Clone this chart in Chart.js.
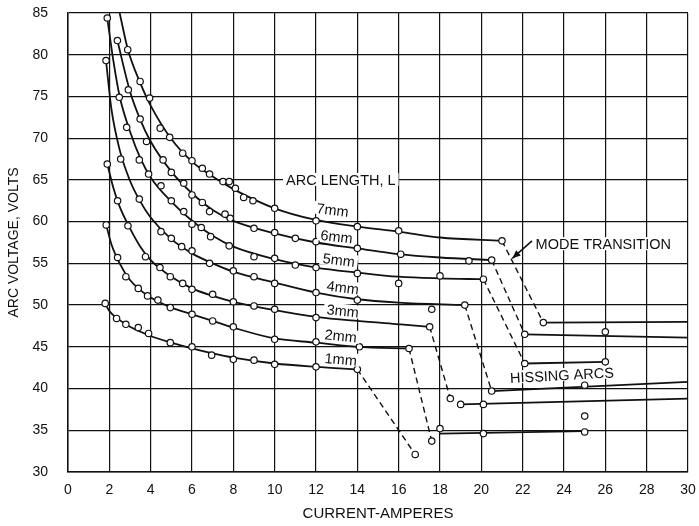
<!DOCTYPE html>
<html>
<head>
<meta charset="utf-8">
<script src="https://cdn.jsdelivr.net/npm/chart.js@4.4.1/dist/chart.umd.min.js"></script>
<style>
  html, body { margin: 0; padding: 0; background: #fff; }
  #wrap { width: 699px; height: 526px; }
</style>
</head>
<body>
<div id="wrap"><canvas id="arc-chart" width="699" height="526"></canvas></div>
<script>
// ─── Arc voltage vs current, one family per arc length ─────────────
// pairs are [current (A), voltage (V)]

const CURRENT_TICKS = [0, 2, 4, 6, 8, 10, 12, 14, 16, 18, 20, 22, 24, 26, 28, 30];
const VOLT_TICKS    = [30, 35, 40, 45, 50, 55, 60, 65, 70, 75, 80, 85];

// faired curves
const L7_CURVE = [[2.5,85],[2.9,80.6],[3.5,76.6],[4,73.9],[5,69.9],[6,67.2],[7,65.4],[8,63.9],[10,61.6],[12,60.2],[14,59.4],[16,58.8],[18,58.1],[21,57.7]];
const L6_CURVE = [[2.39,81.7],[3,75.6],[3.5,72.2],[4,69.6],[5,66.0],[6,63.4],[7,61.4],[8,60.1],[10,58.6],[12,57.5],[14,56.8],[16,56.1],[18,55.7],[20.5,55.4]];
const L5_CURVE = [[1.9,84.4],[2.2,79.2],[2.5,75.0],[3,70.8],[3.5,67.6],[4,65.3],[5,62.4],[6,60.1],[7,58.3],[8,57.0],[10,55.5],[12,54.5],[14,53.9],[16,53.4],[18,53.2],[20.1,53.1]];
const L4_CURVE = [[1.84,79.3],[2.1,73.5],[2.5,68.6],[3,64.9],[3.5,62.4],[4,60.5],[5,57.9],[6,56.2],[7,55.0],[8,54.0],[10,52.7],[12,51.5],[14,50.7],[16,50.3],[19.2,50.0]];
const L3_CURVE = [[1.9,66.9],[2.2,64.0],[2.5,61.8],[3,59.2],[3.5,57.0],[4,55.4],[5,53.4],[6,52.0],[7,51.1],[8,50.4],[10,49.4],[12,48.6],[14,48.1],[16,47.7],[17.5,47.4]];
const L2_CURVE = [[1.85,59.6],[2.1,57.3],[2.5,55.0],[3,53.0],[3.5,51.8],[4,50.9],[5,49.7],[6,48.9],[7,48.1],[8,47.3],[10,46.0],[12,45.5],[14,45.0],[16.5,44.8]];
const L1_CURVE = [[1.8,50.2],[2,49.3],[2.5,48.2],[3,47.4],[4,46.3],[5,45.5],[6,44.8],[7,44.2],[8,43.7],[10,43.0],[12,42.6],[14,42.3]];

// measured points
const L7_POINTS = [[2.89,80.6],[3.49,76.8],[3.95,74.8],[4.46,71.2],[4.92,70.1],[5.55,68.2],[6.0,67.3],[6.5,66.4],[6.85,65.7],[7.5,64.8],[7.8,64.8],[8.1,64.0],[8.5,62.9],[8.95,62.5],[10,61.6],[12,60.1],[14,59.4],[16,58.9],[21,57.7]];
const L6_POINTS = [[2.39,81.7],[2.92,75.8],[3.49,72.3],[3.8,69.6],[4.6,67.4],[5.0,65.9],[5.6,64.6],[6.0,63.2],[6.5,62.3],[6.85,61.2],[7.6,60.9],[7.85,60.4],[9.0,59.2],[10,58.7],[11,58.0],[12,57.6],[14,56.8],[16.1,56.1],[19.4,55.3],[20.5,55.4]];
const L5_POINTS = [[1.9,84.4],[2.48,74.9],[2.84,71.3],[3.45,67.4],[3.9,65.7],[4.5,64.3],[5.0,62.5],[5.6,61.2],[6.0,59.7],[6.45,59.3],[6.9,58.2],[7.8,57.1],[9.0,55.8],[10,55.6],[11,54.8],[12,54.5],[14,53.8],[16,52.6],[18,53.5],[20.1,53.1]];
const L4_POINTS = [[1.84,79.3],[2.55,67.5],[3.45,62.7],[4.5,58.8],[5.0,58.0],[5.5,57.0],[6.0,56.5],[6.85,55.0],[8,54.1],[9,53.4],[10,52.6],[12,51.5],[14,50.6],[17.6,49.5],[19.2,50.0]];
const L3_POINTS = [[1.9,66.9],[2.4,62.5],[2.9,59.5],[3.75,55.8],[4.45,54.5],[4.95,53.4],[5.55,52.6],[6.0,51.9],[7.0,51.3],[8.0,50.4],[9.0,49.9],[10,49.5],[12,48.5],[17.5,47.4]];
const L2_POINTS = [[1.85,59.6],[2.4,55.7],[2.8,53.4],[3.4,52.0],[3.85,51.1],[4.35,50.6],[4.95,49.7],[6.0,48.9],[7.0,48.1],[8.0,47.4],[10,45.9],[12,45.6],[14.1,45.0],[16.5,44.8]];
const L1_POINTS = [[1.8,50.2],[2.35,48.4],[2.8,47.7],[3.4,47.3],[3.9,46.6],[4.95,45.5],[6.0,45.0],[6.95,44.0],[8.0,43.5],[9.0,43.4],[10,42.9],[12,42.6],[14,42.3]];

// mode transition jumps (dashed)
const TRANSITIONS = [
  [[14,42.3],[16.8,32.1]],
  [[16.5,44.8],[17.6,33.7]],
  [[17.5,47.4],[18.5,38.8]],
  [[19.2,50.0],[20.5,39.7]],
  [[20.1,53.1],[22.1,43.0]],
  [[20.5,55.4],[22.1,46.5]],
  [[21.0,57.7],[23.0,47.9]],
];

// hissing arc branches
const HISSING_LINES = [
  [[23.0,47.9],[30,48.0]],
  [[22.1,46.5],[30,46.1]],
  [[22.1,43.0],[26,43.2]],
  [[20.5,39.7],[30,40.8]],
  [[19.0,38.1],[30,38.8]],
  [[18,34.6],[25,34.9]],
];
const HISSING_POINTS = [[23.0,47.9],[26,46.8],[22.1,46.5],[22.1,43.0],[26,43.2],[20.5,39.7],[25,40.4],[18.5,38.8],[19.0,38.1],[20.1,38.1],[18,35.2],[20.1,34.6],[25,34.8],[25,36.7],[16.8,32.1],[17.6,33.7]];

// ─── chart setup ──────────────────────────────────────────────────

const INK = '#111';
const FONT = '"Liberation Sans", Arial, sans-serif';

const toXY = arr => arr.map(([x, y]) => ({ x, y }));

const curve = pts => ({
  data: toXY(pts), showLine: true, borderColor: INK, borderWidth: 1.8,
  pointRadius: 0, cubicInterpolationMode: 'monotone', order: 2,
});
const marks = pts => ({
  data: toXY(pts), showLine: false, pointRadius: 3.2, pointHoverRadius: 3.2,
  pointBackgroundColor: '#fff', pointBorderColor: INK, pointBorderWidth: 1.2, order: 0,
});
const seg = (pts, dash) => ({
  data: toXY(pts), showLine: true, borderColor: INK, borderWidth: dash ? 1.4 : 1.8,
  borderDash: dash ? [6, 4] : [], pointRadius: 0, order: 1,
});

const datasets = [
  ...[L7_CURVE, L6_CURVE, L5_CURVE, L4_CURVE, L3_CURVE, L2_CURVE, L1_CURVE].map(curve),
  ...TRANSITIONS.map(t => seg(t, true)),
  ...HISSING_LINES.map(h => seg(h, false)),
  ...[L7_POINTS, L6_POINTS, L5_POINTS, L4_POINTS, L3_POINTS, L2_POINTS, L1_POINTS, HISSING_POINTS].map(marks),
];

// text notes placed in data units
const NOTES = [
  { text: 'ARC LENGTH, L', x: 13.2, y: 65.0, rot: 0 },
  { text: '7mm', x: 12.8, y: 61.4, rot: 7 },
  { text: '6mm', x: 13.0, y: 58.2, rot: 7 },
  { text: '5mm', x: 13.1, y: 55.4, rot: 7 },
  { text: '4mm', x: 13.3, y: 52.1, rot: 7 },
  { text: '3mm', x: 13.3, y: 49.3, rot: 6 },
  { text: '2mm', x: 13.2, y: 46.3, rot: 6 },
  { text: '1mm', x: 13.2, y: 43.5, rot: 5 },
  { text: 'MODE TRANSITION', x: 25.9, y: 57.3, rot: 0 },
  { text: 'HISSING ARCS', x: 23.9, y: 41.6, rot: -3 },
];
const ARROW = { from: [22.45, 57.7], to: [21.5, 55.6] };

const notesPlugin = {
  id: 'notes',
  afterDatasetsDraw(chart) {
    const { ctx, scales: { x, y } } = chart;
    ctx.save();
    ctx.font = `14.5px ${FONT}`;
    ctx.textAlign = 'center';
    ctx.textBaseline = 'middle';
    NOTES.forEach(n => {
      const px = x.getPixelForValue(n.x);
      const py = y.getPixelForValue(n.y);
      const w = ctx.measureText(n.text).width;
      ctx.save();
      ctx.translate(px, py);
      ctx.rotate(n.rot * Math.PI / 180);
      ctx.fillStyle = '#fff';
      ctx.fillRect(-w / 2 - 3, -7, w + 6, 13);
      ctx.fillStyle = INK;
      ctx.fillText(n.text, 0, 1);
      ctx.restore();
    });

    // arrow to the 7mm jump
    const x0 = x.getPixelForValue(ARROW.from[0]), y0 = y.getPixelForValue(ARROW.from[1]);
    const x1 = x.getPixelForValue(ARROW.to[0]),   y1 = y.getPixelForValue(ARROW.to[1]);
    const a = Math.atan2(y1 - y0, x1 - x0);
    ctx.strokeStyle = INK;
    ctx.fillStyle = INK;
    ctx.lineWidth = 1.6;
    ctx.beginPath();
    ctx.moveTo(x0, y0);
    ctx.lineTo(x1, y1);
    ctx.stroke();
    ctx.beginPath();
    ctx.moveTo(x1, y1);
    ctx.lineTo(x1 - 9 * Math.cos(a - 0.4), y1 - 9 * Math.sin(a - 0.4));
    ctx.lineTo(x1 - 9 * Math.cos(a + 0.4), y1 - 9 * Math.sin(a + 0.4));
    ctx.closePath();
    ctx.fill();
    ctx.restore();
  },
};

new Chart(document.getElementById('arc-chart'), {
  type: 'scatter',
  data: { datasets },
  plugins: [notesPlugin],
  options: {
    responsive: false,
    animation: false,
    events: [],
    layout: { padding: { top: 13, right: 11, left: 0, bottom: 0 } },
    plugins: { legend: { display: false }, tooltip: { enabled: false } },
    scales: {
      x: {
        type: 'linear', min: 0, max: 30,
        afterBuildTicks: s => { s.ticks = CURRENT_TICKS.map(value => ({ value })); },
        afterFit: s => { s.height = 54; s.paddingLeft = 0; s.paddingRight = 0; },
        grid: { color: INK, lineWidth: 1.2, drawTicks: false },
        border: { display: true, color: INK, width: 1.5 },
        ticks: { color: INK, padding: 10, maxRotation: 0, font: { family: FONT, size: 14 } },
        title: { display: true, text: 'CURRENT-AMPERES', color: INK, padding: { top: 0, bottom: 3 },
                 font: { family: FONT, size: 15 } },
      },
      y: {
        type: 'linear', min: 30, max: 85,
        afterBuildTicks: s => { s.ticks = VOLT_TICKS.map(value => ({ value })); },
        afterFit: s => { s.width = 68; s.paddingTop = 0; s.paddingBottom = 0; },
        grid: { color: INK, lineWidth: 1.2, drawTicks: false },
        border: { display: true, color: INK, width: 1.5 },
        ticks: { color: INK, padding: 20, font: { family: FONT, size: 14 } },
        title: { display: true, text: 'ARC VOLTAGE, VOLTS', color: INK, padding: { top: 6, bottom: 0 },
                 font: { family: FONT, size: 14 } },
      },
    },
  },
});
</script>
</body>
</html>
